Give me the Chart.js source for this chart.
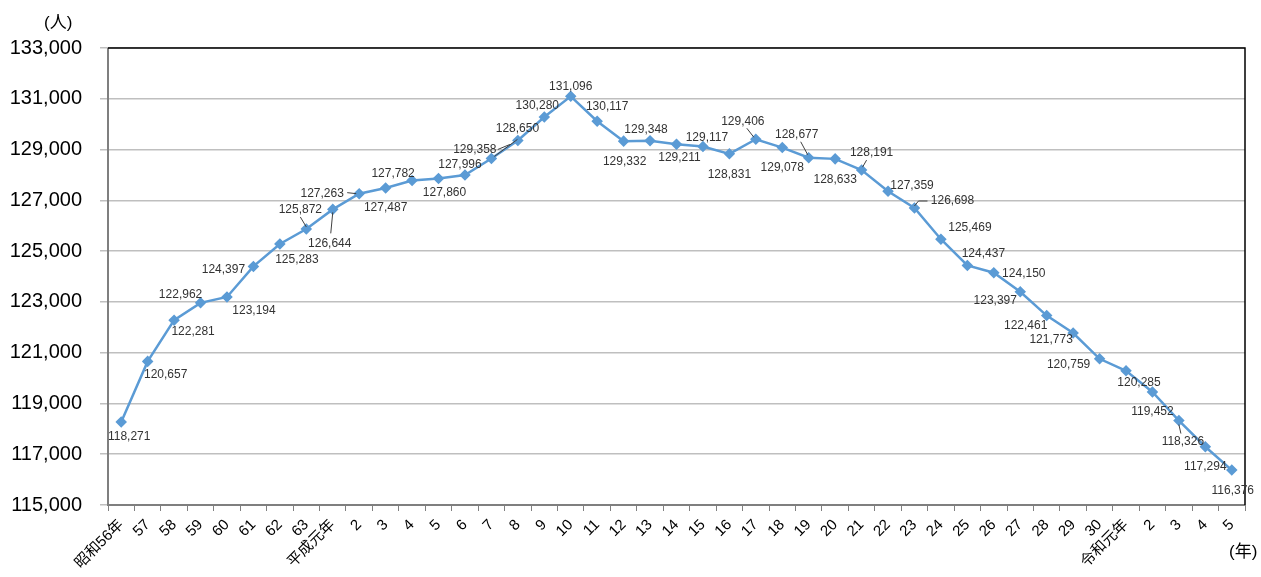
<!DOCTYPE html>
<html>
<head>
<meta charset="utf-8">
<script src="https://cdn.jsdelivr.net/npm/chart.js@4"></script>
<style>
  html, body { margin: 0; padding: 0; background: #fff; }
  #wrap { width: 1261px; height: 577px; }
</style>
</head>
<body>
<div id="wrap"><canvas id="chart" width="1261" height="577"></canvas></div>
<script>
// 年次（昭和56年〜令和5年）
const years = ['昭和56年', '57', '58', '59', '60', '61', '62', '63', '平成元年',
  '2', '3', '4', '5', '6', '7', '8', '9', '10', '11', '12', '13', '14', '15',
  '16', '17', '18', '19', '20', '21', '22', '23', '24', '25', '26', '27', '28',
  '29', '30', '令和元年', '2', '3', '4', '5'];

// 人数
const people = [118271, 120657, 122281, 122962, 123194, 124397, 125283, 125872,
  126644, 127263, 127487, 127782, 127860, 127996, 128650, 129358, 130280, 131096,
  130117, 129332, 129348, 129211, 129117, 128831, 129406, 129078, 128677, 128633,
  128191, 127359, 126698, 125469, 124437, 124150, 123397, 122461, 121773, 120759,
  120285, 119452, 118326, 117294, 116376];

const yMin = 115000;
const yMax = 133000;
const yStep = 2000;

// label placement relative to each point (dx, dy)
const labelOffsets = [
  [8, 15], [18, 13], [19, 12], [-20, -8], [27, 14], [-30, 3], [17, 16], [-6, -19],
  [-3, 34], [-37, 0], [0, 20], [-19, -7], [6, 14], [-5, -10], [26, -30], [-43, 9],
  [-7, -11], [0, -10], [10, -15], [1, 21], [-4, -11], [3, 13], [4, -9], [0, 21],
  [-13, -18], [0, 20], [-12, -23], [0, 21], [10, -17], [24, -6], [38, -7], [29, -12],
  [16, -12], [30, 1], [-25, 9], [-21, 10], [-22, 7], [-31, 6], [13, 12], [0, 20],
  [4, 21], [0, 20], [1, 21]
];

// leader lines (polyline offsets from the point)
const leaders = {
  7: [[-6, -12], [0, -2]],
  8: [[-2, 24], [0, 3]],
  9: [[-12, -1], [-3, 0]],
  14: [[26, -19], [3, -2]],
  15: [[-20, 9], [-8, 4]],
  24: [[-9, -11], [-2, -2]],
  26: [[-8, -16], [-1, -3]],
  28: [[5, -10], [1, -3]],
  30: [[13, -7], [4, -7], [0, -2]],
  40: [[0, 4], [2, 13]]
};

const fontFamily = '"Liberation Sans", "Noto Sans CJK JP", sans-serif';

const extras = {
  id: 'extras',
  beforeDatasetsDraw(chart) {
    const { ctx, chartArea: a } = chart;
    ctx.save();
    ctx.lineWidth = 2;
    ctx.strokeStyle = '#7f7f7f';
    ctx.beginPath();
    ctx.moveTo(a.left, a.top);
    ctx.lineTo(a.left, a.bottom);
    ctx.lineTo(a.right, a.bottom);
    ctx.stroke();
    ctx.strokeStyle = '#000';
    ctx.lineWidth = 1.5;
    ctx.beginPath();
    ctx.moveTo(a.left, a.top);
    ctx.lineTo(a.right, a.top);
    ctx.lineTo(a.right, a.bottom);
    ctx.stroke();
    ctx.restore();
  },
  afterDatasetsDraw(chart) {
    const { ctx } = chart;
    const meta = chart.getDatasetMeta(0);
    ctx.save();
    ctx.font = '12px ' + fontFamily;
    ctx.fillStyle = '#333';
    ctx.textAlign = 'center';
    ctx.textBaseline = 'middle';
    meta.data.forEach((pt, i) => {
      const off = labelOffsets[i];
      ctx.fillText(people[i].toLocaleString('en-US'), pt.x + off[0], pt.y + off[1]);
      const ld = leaders[i];
      if (ld) {
        ctx.strokeStyle = '#404040';
        ctx.lineWidth = 1;
        ctx.beginPath();
        ld.forEach((p, k) => {
          if (k === 0) ctx.moveTo(pt.x + p[0], pt.y + p[1]);
          else ctx.lineTo(pt.x + p[0], pt.y + p[1]);
        });
        ctx.stroke();
      }
    });
    ctx.restore();
  },
  afterDraw(chart) {
    const { ctx } = chart;
    ctx.save();
    ctx.fillStyle = '#000';
    ctx.font = '17px ' + fontFamily;
    ctx.textBaseline = 'middle';
    ctx.textAlign = 'left';
    ctx.fillText('(人)', 44, 23);
    ctx.fillText('(年)', 1229, 552);
    ctx.restore();
  }
};

new Chart(document.getElementById('chart'), {
  type: 'line',
  data: {
    labels: years,
    datasets: [{
      data: people,
      borderColor: '#5b9bd5',
      backgroundColor: '#5b9bd5',
      borderWidth: 2.5,
      pointStyle: 'rectRot',
      pointRadius: 4,
      pointHoverRadius: 4,
      tension: 0
    }]
  },
  options: {
    responsive: false,
    animation: false,
    devicePixelRatio: 1,
    layout: { padding: { top: 48, right: 16, left: 0, bottom: 0 } },
    plugins: { legend: { display: false }, tooltip: { enabled: false } },
    scales: {
      x: {
        type: 'category',
        offset: true,
        afterFit(scale) { scale.height = 72; },
        grid: { offset: true, drawOnChartArea: false, drawTicks: true, tickLength: 6, color: '#808080' },
        border: { display: false },
        ticks: {
          autoSkip: false,
          minRotation: 45,
          maxRotation: 45,
          padding: 5,
          color: '#000',
          font: { size: 15, family: fontFamily }
        }
      },
      y: {
        min: yMin,
        max: yMax,
        afterFit(scale) { scale.width = 108; },
        grid: { color: '#bfbfbf', lineWidth: 1.5, tickLength: 8 },
        border: { display: false },
        ticks: {
          stepSize: yStep,
          padding: 18,
          color: '#000',
          font: { size: 20, family: fontFamily },
          callback: v => v.toLocaleString('en-US')
        }
      }
    }
  },
  plugins: [extras]
});
</script>
</body>
</html>
